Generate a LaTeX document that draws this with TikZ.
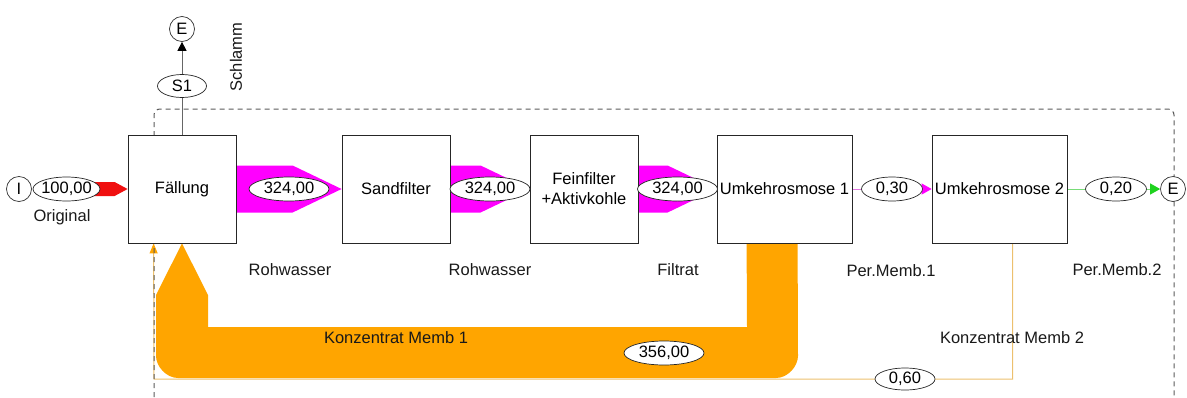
\documentclass[tikz,border=0pt]{standalone}
\usepackage{fontspec}
\setmainfont{Liberation Sans}
\usetikzlibrary{shapes.geometric,calc,arrows.meta}
\pgfdeclarelayer{backback}
\pgfdeclarelayer{back}
\pgfsetlayers{backback,back,main}
\definecolor{magf}{RGB}{255,0,255}
\definecolor{magl}{RGB}{225,120,225}
\definecolor{redf}{RGB}{240,16,16}
\definecolor{orf}{RGB}{255,165,0}
\definecolor{orl}{RGB}{236,192,110}
\definecolor{grl}{RGB}{120,220,120}
\definecolor{grf}{RGB}{30,210,30}
\definecolor{bnd}{RGB}{90,90,90}
\begin{document}
\begin{tikzpicture}[x=1pt,y=-1pt,
  font=\fontsize{16.5}{20}\selectfont,
  box/.style={draw=black!85,line width=0.8pt,fill=white,inner sep=0pt,minimum height=108pt,align=center},
  lbl/.style={ellipse,draw=black!85,line width=0.7pt,fill=white,inner sep=0pt,minimum height=24pt},
  term/.style={circle,draw=black!80,line width=0.7pt,fill=white,inner sep=0pt,minimum size=25pt},
  txt/.style={inner sep=0pt,text=black!90},
  bound/.style={draw=bnd,line width=1pt,dash pattern=on 5pt off 4pt,rounded corners=6pt},
  thinor/.style={draw=orl,line width=1pt,-{Triangle[length=10pt,width=8pt,color=orf]}},
  thinmag/.style={draw=magl,line width=1pt,-{Triangle[length=10pt,width=11pt,color=magf]}},
  thingr/.style={draw=grl,line width=1pt,-{Triangle[length=10pt,width=11pt,color=grf]}},
  outline/.style={draw=black!60,line width=0.9pt,-{Triangle[length=9pt,width=9pt,color=black]}}
]
\useasboundingbox (0,0) rectangle (1187,397);

% process boxes
\node[box,minimum width=108pt] (fall) at (182,189) {Fällung};
\node[box,minimum width=108pt] (sand) at (396,189) {Sandfilter};
\node[box,minimum width=108pt] (fein) at (584,189) {Feinfilter\\+Aktivkohle};
\node[box,minimum width=135pt] (uo1) at (784.5,189) {Umkehrosmose 1};
\node[box,minimum width=135pt] (uo2) at (999.5,189) {Umkehrosmose 2};

% terminals
\node[term] (I) at (19,189) {I};
\node[term] (Etop) at (182,29) {E};
\node[term] (Eright) at (1173,189) {E};

\coordinate (k2s) at ($(uo2.south west)+(81,0)$);
\coordinate (k2c) at (154,379);
\coordinate (k2e) at ($(fall.south west)+(26,0)$);

\begin{pgfonlayer}{backback}
  % Konzentrat Memb 2 (thin)
  \draw[thinor] (k2s) |- (k2c) -- (k2e);
\end{pgfonlayer}

\begin{pgfonlayer}{back}
  % system boundary
  \draw[bound] (154,397) -- (154,109) -- (1174,109) -- (1174,397);
  % Schlamm line
  \draw[outline] (fall.north) -- (Etop.south);
  % Original (red)
  \fill[redf] (66,182) -- ($(fall.west)+(-13,-7)$) -- (fall.west)
     -- ($(fall.west)+(-13,7)$) -- (66,196) -- cycle;
  % Rohwasser 1
  \fill[magf] ($(fall.east)+(0,-23.5)$) -- ($(sand.west)+(-49,-23.5)$) -- (sand.west)
     -- ($(sand.west)+(-49,23.5)$) -- ($(fall.east)+(0,23.5)$) -- cycle;
  % Rohwasser 2
  \fill[magf] ($(sand.east)+(0,-23.5)$) -- ($(fein.west)+(-49,-23.5)$) -- (fein.west)
     -- ($(fein.west)+(-49,23.5)$) -- ($(sand.east)+(0,23.5)$) -- cycle;
  % Filtrat
  \fill[magf] ($(fein.east)+(0,-23.5)$) -- ($(uo1.west)+(-49,-23.5)$) -- (uo1.west)
     -- ($(uo1.west)+(-49,23.5)$) -- ($(fein.east)+(0,23.5)$) -- cycle;
  % Konzentrat Memb 1 (thick)
  \fill[orf] ($(uo1.south west)+(30,0)$) -- ($(uo1.south west)+(81,0)$)
     -- (798,356) .. controls (798,366) and (788,378) .. (776,378)
     -- (178,378) .. controls (166,378) and (156,366) .. (156,356)
     -- (156,295) -- (fall.south) -- (208,295) -- (208,327) -- (747,327) -- cycle;
  % Per.Memb.1 and Per.Memb.2
  \draw[thinmag] (uo1.east) -- (uo2.west);
  \draw[thingr] (uo2.east) -- (Eright.west);
\end{pgfonlayer}

% value labels
\node[lbl,minimum width=67pt] (v0) at (66.5,189) {\makebox[0pt]{100,00}};
\node[lbl,minimum width=80pt] (v1) at ($(fall.east)!0.5!(sand.west)$) {\makebox[0pt]{324,00}};
\node[lbl,minimum width=80pt] (v2) at ($(sand.east)!0.5!(fein.west)$) {\makebox[0pt]{324,00}};
\node[lbl,minimum width=80pt] (v3) at ($(fein.east)!0.5!(uo1.west)$) {\makebox[0pt]{324,00}};
\node[lbl,minimum width=61pt] (v4) at ($(uo1.east)!0.5!(uo2.west)$) {\makebox[0pt]{0,30}};
\node[lbl,minimum width=61pt] (v5) at (1116,189) {\makebox[0pt]{0,20}};
\node[lbl,minimum width=60pt,minimum height=22pt] (v6) at (905,379) {\makebox[0pt]{0,60}};
\node[lbl,minimum width=80pt] (v7) at (664,353) {\makebox[0pt]{356,00}};
\node[lbl,minimum width=49pt,minimum height=23pt] (s1) at (182,86) {\makebox[0pt]{S1}};

% flow names
\node[txt] (lorig) at (62,217) {Original};
\node[txt,rotate=90] (lsch) at (236,57) {Schlamm};
\node[txt] (lrw1) at (290,270) {Rohwasser};
\node[txt] (lrw2) at (490,270) {Rohwasser};
\node[txt] (lfil) at (678,270) {Filtrat};
\node[txt] (lpm1) at (891,271) {Per.Memb.1};
\node[txt] (lpm2) at (1117,270) {Per.Memb.2};
\node[txt] (lkm1) at (396,338) {Konzentrat Memb 1};
\node[txt] (lkm2) at (1012,338) {Konzentrat Memb 2};
\end{tikzpicture}
\end{document}
